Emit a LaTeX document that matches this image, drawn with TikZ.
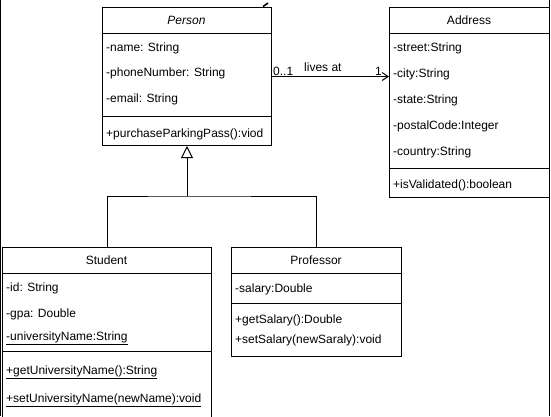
\documentclass[tikz,border=0pt]{standalone}
\usepackage{fontspec}
\setmainfont{Liberation Sans}
\usetikzlibrary{arrows.meta}
\begin{document}
\begin{tikzpicture}[x=1pt,y=-1pt,
  classbox/.style={draw, line width=1pt, inner sep=0pt, anchor=north west},
  attr/.style={anchor=west, inner sep=0pt, font=\fontsize{12}{14}\selectfont, text height=11pt, text depth=2.5pt},
  title/.style={inner sep=0pt, font=\fontsize{12}{14}\selectfont, text height=11pt, text depth=2.5pt},
  sep/.style={line width=1pt},
  lbl/.style={anchor=base west, inner sep=0pt, font=\fontsize{12}{14}\selectfont},
  conn/.style={line width=1pt}
]
\useasboundingbox (0,0) rectangle (551,416);
\fill[white] (0,0) rectangle (551,416);
% edge lines (cropped parts)
\draw[line width=1.2pt] (0.6,0) -- (0.6,416);
\draw[line width=1pt] (549.8,0) -- (549.8,416);
\draw[line width=1.6pt] (263,6.5) -- (268,3);

% Person
\node[classbox, minimum width=169pt, minimum height=138pt] (person) at (102,7) {};
\draw[sep] (102,33) -- (271,33);
\draw[sep] (102,116) -- (271,116);
\node[title] (ptitle) at (186.5,20.5) {\itshape Person};
\node[attr] (p1) at (106,47) {-name: String};
\node[attr] (p2) at (106,72.5) {-phoneNumber: String};
\node[attr] (p3) at (106,98.5) {-email: String};
\node[attr] (p4) at (106,133) {+purchaseParkingPass():viod};

% Address
\node[classbox, minimum width=160pt, minimum height=190pt] (address) at (389,7) {};
\draw[sep] (389,33) -- (549,33);
\draw[sep] (389,168) -- (549,168);
\node[title] (atitle) at (469,20.5) {Address};
\node[attr] (a1) at (393,47) {-street:String};
\node[attr] (a2) at (393,73) {-city:String};
\node[attr] (a3) at (393,99) {-state:String};
\node[attr] (a4) at (393,125.5) {-postalCode:Integer};
\node[attr] (a5) at (393,151) {-country:String};
\node[attr] (a6) at (393,184.5) {+isValidated():boolean};

% Student
\node[classbox, minimum width=209pt, minimum height=190pt] (student) at (2,247) {};
\draw[sep] (2,273) -- (211,273);
\draw[sep] (2,351) -- (211,351);
\node[title] (stitle) at (106.5,260.5) {Student};
\node[attr] (s1) at (6,287.5) {-id: String};
\node[attr] (s2) at (6,313.5) {-gpa: Double};
\node[attr] (s3) at (6,336.5) {\underline{-universityName:String}};
\node[attr] (s4) at (6,370.5) {\underline{+getUniversityName():String}};
\node[attr] (s5) at (6,398) {\underline{+setUniversityName(newName):void}};

% Professor
\node[classbox, minimum width=170pt, minimum height=109pt] (professor) at (231,247) {};
\draw[sep] (231,273) -- (401,273);
\draw[sep] (231,303) -- (401,303);
\node[title] (prtitle) at (316,260.5) {Professor};
\node[attr] (r1) at (235,288.5) {-salary:Double};
\node[attr] (r2) at (235,319) {+getSalary():Double};
\node[attr] (r3) at (235,339.5) {+setSalary(newSaraly):void};

% association
\draw[conn, -{Straight Barb[open, length=6pt, width=8pt, line width=1pt]}] (person.east) -- (address.west |- person.east);
\node[lbl] (m1) at (273,75.5) {0..1};
\node[lbl] (m2) at (304,71.5) {lives at};
\node[lbl] (m3) at (375,75.5) {1};

% inheritance
\coordinate (junc) at (person.south |- 0,196);
\draw[conn] (student.north) |- (junc) -| (professor.north);
\draw[conn, -{Triangle[open, length=12pt, width=12pt, line width=1pt, fill=white]}] (junc) -- (person.south);
\end{tikzpicture}
\end{document}
